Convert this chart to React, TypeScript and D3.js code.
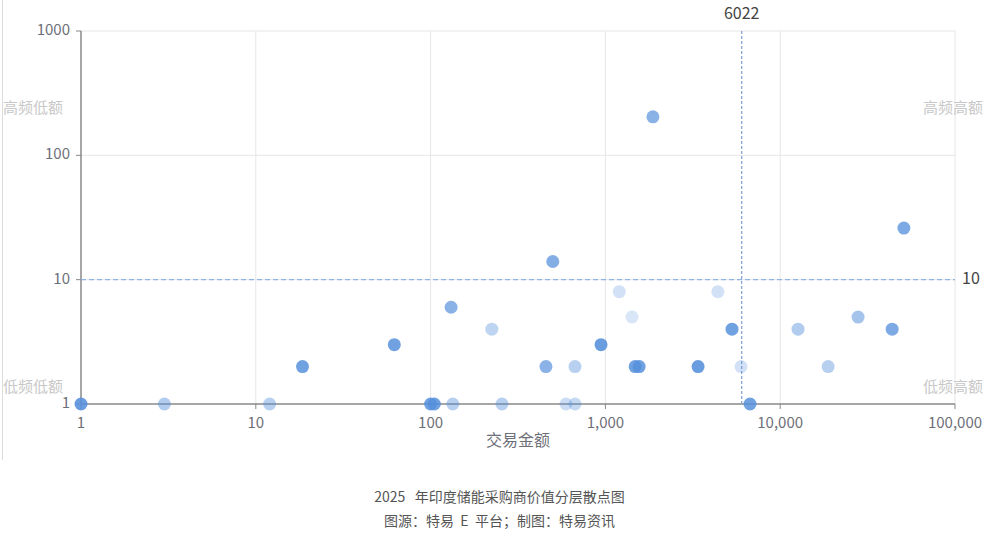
import { useEffect, useRef } from 'react';
import * as d3 from 'd3';

// buyer points: transaction amount, purchase frequency, tone (0 light .. 1 strong)
const amounts = [1, 3, 12, 18.5, 62, 100, 105, 131, 134, 224, 256, 457, 500, 595, 670, 670, 944, 1200, 1420, 1480, 1560, 1870, 3390, 4400, 5300, 5970, 6720, 12650, 18800, 27900, 43700, 51000];
const frequencies = [1, 1, 1, 2, 3, 1, 1, 6, 1, 4, 1, 2, 14, 1, 1, 2, 3, 8, 5, 2, 2, 204, 2, 8, 4, 2, 1, 4, 2, 5, 4, 26];
const tones = [0.95, 0.4, 0.35, 0.9, 0.9, 0.9, 0.9, 0.7, 0.35, 0.3, 0.35, 0.7, 0.75, 0.2, 0.25, 0.35, 0.95, 0.15, 0.1, 0.9, 0.9, 0.7, 0.95, 0.15, 0.9, 0.15, 0.9, 0.4, 0.35, 0.5, 0.8, 0.8];

const xTicks = [1, 10, 100, 1000, 10000, 100000];
const yTicks = [1, 10, 100, 1000];
const amountThreshold = 6022;
const frequencyThreshold = 10;

const quadrantLabels = ['高频低额', '高频高额', '低频低额', '低频高额'];
const xAxisName = '交易金额';
const captionTitle = '2025\u00a0\u00a0\u00a0年印度储能采购商价值分层散点图';
const captionSource = '图源：特易\u00a0\u00a0E\u00a0\u00a0平台；制图：特易资讯';

const width = 999;
const height = 541;
const margin = { top: 31, right: 44, bottom: 137, left: 81 };

export default function App() {
  const svgRef = useRef<SVGSVGElement>(null);

  useEffect(() => {
    const svg = d3.select(svgRef.current);
    if (!svg.node()) return;
    svg.selectAll('*').remove();

    const font = "'Noto Sans CJK SC', 'Noto Sans', sans-serif";
    const x = d3.scaleLog().domain([1, 100000]).range([margin.left, width - margin.right]);
    const y = d3.scaleLog().domain([1, 1000]).range([height - margin.bottom, margin.top]);
    const x0 = x(1), x1 = x(100000), y0 = y(1), y1 = y(1000);

    // page edge line seen on the left
    svg.append('line')
      .attr('x1', 2.5).attr('x2', 2.5).attr('y1', 0).attr('y2', 460)
      .attr('stroke', '#dcdcdc').attr('stroke-width', 1);

    const grid = svg.append('g').attr('class', 'grid');
    xTicks.slice(1).forEach(v => {
      grid.append('line')
        .attr('x1', x(v)).attr('x2', x(v)).attr('y1', y1).attr('y2', y0)
        .attr('stroke', '#e6e6e6').attr('stroke-width', 1);
    });
    yTicks.slice(1).forEach(v => {
      grid.append('line')
        .attr('x1', x0).attr('x2', x1).attr('y1', y(v)).attr('y2', y(v))
        .attr('stroke', '#e6e6e6').attr('stroke-width', 1);
    });

    // quadrant labels
    const qPos = [
      { x: 33, y: y(1000) + 78 },
      { x: 953, y: y(1000) + 78 },
      { x: 33, y: y(1) - 16 },
      { x: 953, y: y(1) - 16 },
    ];
    quadrantLabels.forEach((t, i) => {
      svg.append('text')
        .attr('x', qPos[i].x).attr('y', qPos[i].y)
        .attr('text-anchor', 'middle').attr('dominant-baseline', 'middle')
        .style('font-family', font).style('font-size', '15px')
        .style('fill', '#c8c8c8')
        .text(t);
    });

    // axes
    const axisColor = '#888';
    const labelColor = '#6e7079';
    svg.append('line')
      .attr('x1', x0).attr('x2', x1).attr('y1', y0).attr('y2', y0)
      .attr('stroke', axisColor).attr('stroke-width', 1.5);
    svg.append('line')
      .attr('x1', x0).attr('x2', x0).attr('y1', y1).attr('y2', y0)
      .attr('stroke', axisColor).attr('stroke-width', 1.5);

    xTicks.forEach(v => {
      svg.append('line')
        .attr('x1', x(v)).attr('x2', x(v)).attr('y1', y0).attr('y2', y0 + 5)
        .attr('stroke', axisColor).attr('stroke-width', 1);
      svg.append('text')
        .attr('x', x(v)).attr('y', y0 + 20)
        .attr('text-anchor', 'middle').attr('dominant-baseline', 'middle')
        .style('font-family', font).style('font-size', '15px')
        .style('fill', labelColor)
        .text(d3.format(',')(v));
    });
    yTicks.forEach(v => {
      svg.append('line')
        .attr('x1', x0 - 5).attr('x2', x0).attr('y1', y(v)).attr('y2', y(v))
        .attr('stroke', axisColor).attr('stroke-width', 1);
      svg.append('text')
        .attr('x', x0 - 11).attr('y', y(v))
        .attr('text-anchor', 'end').attr('dominant-baseline', 'middle')
        .style('font-family', font).style('font-size', '15px')
        .style('fill', labelColor)
        .text(String(v));
    });

    svg.append('text')
      .attr('x', (x0 + x1) / 2).attr('y', y0 + 38)
      .attr('text-anchor', 'middle').attr('dominant-baseline', 'middle')
      .style('font-family', font).style('font-size', '16px')
      .style('fill', labelColor)
      .text(xAxisName);

    // threshold lines
    svg.append('line')
      .attr('x1', x(amountThreshold)).attr('x2', x(amountThreshold)).attr('y1', y1).attr('y2', y0)
      .attr('stroke', '#7f9fcf').attr('stroke-width', 1.2).attr('stroke-dasharray', '3,2');
    svg.append('line')
      .attr('x1', x0).attr('x2', x1).attr('y1', y(frequencyThreshold)).attr('y2', y(frequencyThreshold))
      .attr('stroke', '#8fb3e4').attr('stroke-width', 1.3).attr('stroke-dasharray', '5,3');
    svg.append('text')
      .attr('x', x(amountThreshold)).attr('y', y1 - 16)
      .attr('text-anchor', 'middle').attr('dominant-baseline', 'middle')
      .style('font-family', font).style('font-size', '16px')
      .style('fill', '#444')
      .text(String(amountThreshold));
    svg.append('text')
      .attr('x', x1 + 7).attr('y', y(frequencyThreshold))
      .attr('text-anchor', 'start').attr('dominant-baseline', 'middle')
      .style('font-family', font).style('font-size', '16px')
      .style('fill', '#444')
      .text(String(frequencyThreshold));

    // points
    const opacity = d3.scaleLinear().domain([0, 1]).range([0.15, 0.92]);
    const data = amounts.map((a, i) => ({ a, f: frequencies[i], t: tones[i] }));
    svg.append('g')
      .selectAll('circle')
      .data(data)
      .enter()
      .append('circle')
      .attr('cx', d => x(d.a))
      .attr('cy', d => y(d.f))
      .attr('r', 6.5)
      .style('fill', '#5590dc')
      .style('fill-opacity', d => opacity(d.t));

    // caption
    svg.append('text')
      .attr('x', width / 2).attr('y', 498)
      .attr('text-anchor', 'middle').attr('dominant-baseline', 'middle')
      .style('font-family', font).style('font-size', '14px')
      .style('fill', '#555')
      .text(captionTitle);
    svg.append('text')
      .attr('x', width / 2).attr('y', 522)
      .attr('text-anchor', 'middle').attr('dominant-baseline', 'middle')
      .style('font-family', font).style('font-size', '14px')
      .style('fill', '#555')
      .text(captionSource);
  }, []);

  return (
    <svg
      ref={svgRef}
      width={width}
      height={height}
      style={{ position: 'absolute', left: 0, top: 0, background: '#fff' }}
    />
  );
}
